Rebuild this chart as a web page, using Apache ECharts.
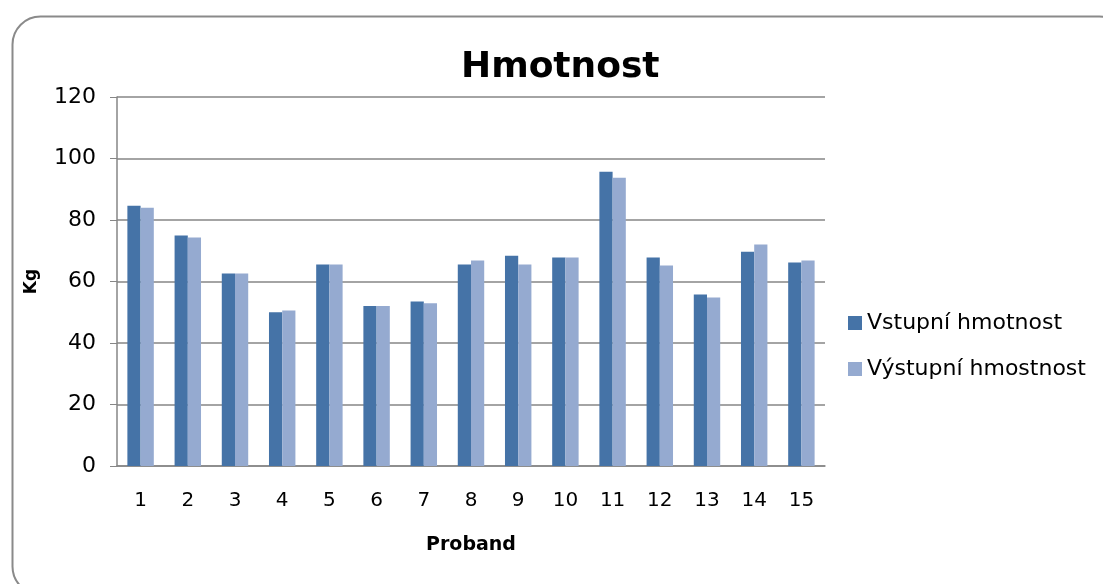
<!DOCTYPE html>
<html>
<head>
<meta charset="utf-8">
<script src="https://cdn.jsdelivr.net/npm/echarts@6/dist/echarts.min.js"></script>
<style>
html,body{margin:0;padding:0;background:#fff;}
#c{width:1103px;height:584px;}
</style>
</head>
<body>
<div id="c"></div>
<script>
const categories = ['1','2','3','4','5','6','7','8','9','10','11','12','13','14','15'];
const vstupni = [84.6, 75, 62.6, 50, 65.5, 52, 53.5, 65.5, 68.4, 67.8, 95.7, 67.8, 55.8, 69.7, 66.2];
const vystupni = [84, 74.3, 62.6, 50.6, 65.5, 52, 52.9, 66.8, 65.5, 67.8, 93.7, 65.2, 54.8, 72, 66.8];
const seriesNames = ['Vstupní hmotnost', 'Výstupní hmostnost'];

const FONT = '"DejaVu Sans", "Noto Sans", sans-serif';
const chart = echarts.init(document.getElementById('c'));
chart.setOption({
  animation: false,
  backgroundColor: '#fff',
  graphic: [{
    type: 'rect', left: 10, top: 14,
    shape: {width: 1115, height: 578, r: 28},
    style: {fill: 'none', stroke: '#8a8a8a', lineWidth: 2}
  }],
  title: {
    text: 'Hmotnost', left: 456, top: 45,
    textStyle: {fontFamily: FONT, fontWeight: 'bold', fontSize: 36, color: '#000'}
  },
  legend: {
    orient: 'vertical', left: 843, top: 307, itemGap: 24,
    itemWidth: 14, itemHeight: 14, icon: 'rect',
    textStyle: {fontFamily: FONT, fontSize: 22, color: '#000'},
    data: seriesNames
  },
  grid: {left: 117, right: 278, top: 97, bottom: 118},
  xAxis: {
    type: 'category', data: categories,
    name: 'Proband', nameLocation: 'middle', nameGap: 70,
    nameTextStyle: {fontFamily: FONT, fontWeight: 'bold', fontSize: 19, color: '#000'},
    axisLine: {lineStyle: {color: '#868686', width: 1.5}},
    axisTick: {show: false},
    axisLabel: {fontFamily: FONT, fontSize: 20, color: '#000', margin: 25},
  },
  yAxis: {
    type: 'value', min: 0, max: 120, interval: 20,
    name: 'Kg', nameLocation: 'middle', nameGap: 77, nameRotate: 90,
    nameTextStyle: {fontFamily: FONT, fontWeight: 'bold', fontSize: 17, color: '#000'},
    axisLine: {show: true, lineStyle: {color: '#868686', width: 1.5}},
    axisTick: {show: true, length: 7, lineStyle: {color: '#868686'}},
    axisLabel: {fontFamily: FONT, fontSize: 22, color: '#000', margin: 21},
    splitLine: {lineStyle: {color: '#868686', width: 1.5}}
  },
  series: [
    {name: seriesNames[0], type: 'bar', data: vstupni, barGap: '0%', barCategoryGap: '44%',
     itemStyle: {color: '#4573a7'}},
    {name: seriesNames[1], type: 'bar', data: vystupni,
     itemStyle: {color: '#95aad0'}}
  ]
});
</script>
</body>
</html>
